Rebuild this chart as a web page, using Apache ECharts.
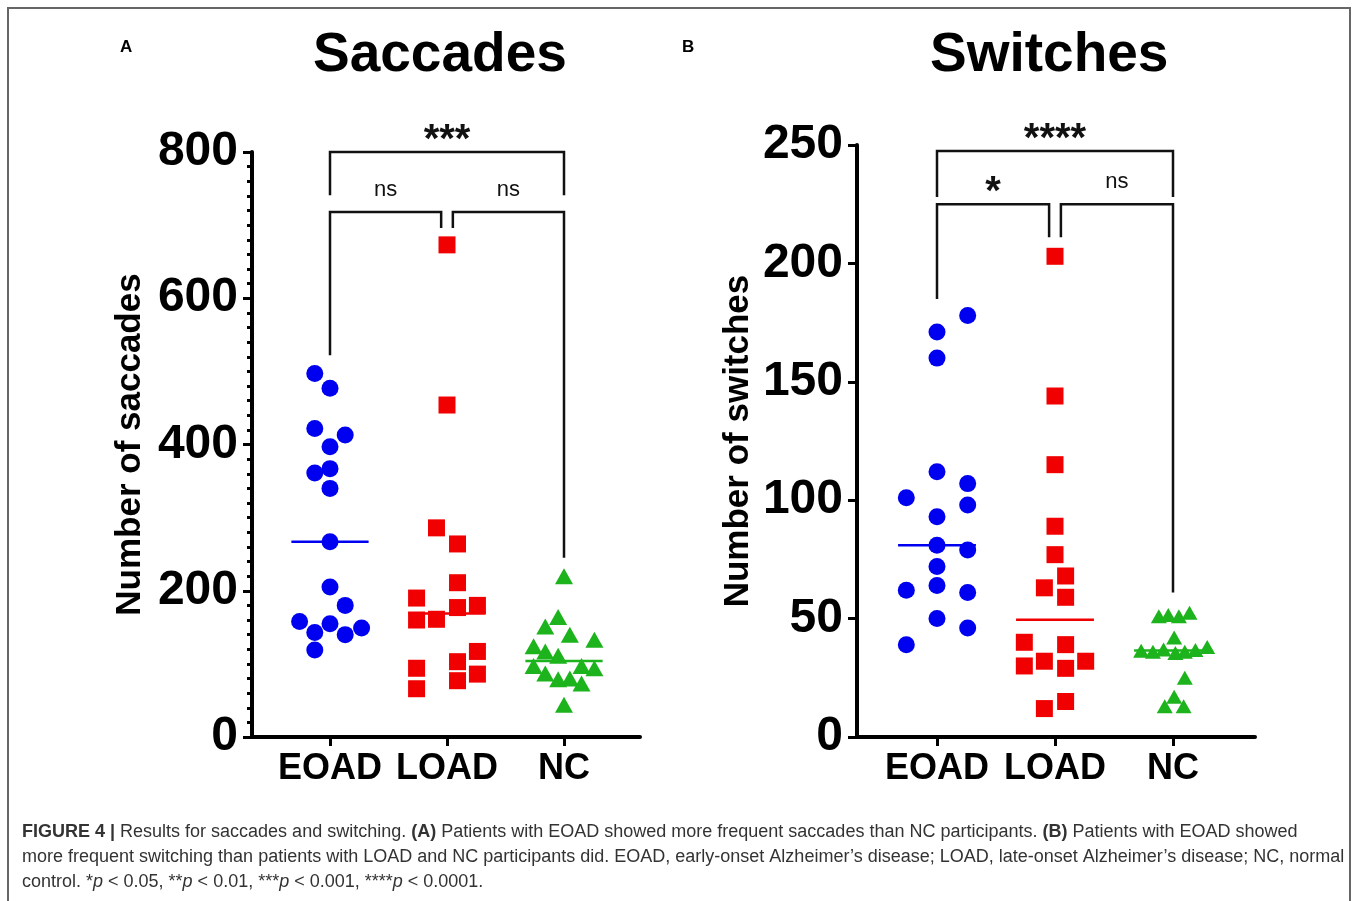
<!DOCTYPE html>
<html>
<head>
<meta charset="utf-8">
<script src="https://cdn.jsdelivr.net/npm/echarts@6/dist/echarts.min.js"></script>
<style>
  html, body { margin: 0; padding: 0; background: #fff; }
  #chart { width: 1357px; height: 901px; }
</style>
</head>
<body>
<div id="chart"></div>
<script>
// groups on the x axis
const groups = ['EOAD', 'LOAD', 'NC'];

// A: number of saccades (value + horizontal jitter, in category units)
const saccEOAD = [497, 477, 422, 413, 397, 367, 361, 340, 267, 205, 180, 158, 155, 149, 143, 140, 119];
const saccEOADJit = [-0.13, 0, -0.13, 0.13, 0, 0, -0.13, 0, 0, 0, 0.13, -0.26, 0, 0.27, -0.13, 0.13, -0.13];
const saccLOAD = [673, 454, 286, 264, 211, 190, 180, 177, 161, 160, 117, 103, 94, 86, 77, 66];
const saccLOADJit = [0, 0, -0.09, 0.09, 0.09, -0.26, 0.26, 0.09, -0.09, -0.26, 0.26, 0.09, -0.26, 0.26, 0.09, -0.26];
const saccNC = [220, 164, 151, 140, 133, 124, 117, 111, 97, 97, 94, 87, 80, 79, 73, 44];
const saccNCJit = [0, -0.05, -0.16, 0.05, 0.26, -0.26, -0.16, -0.05, -0.26, 0.15, 0.26, -0.16, 0.05, -0.05, 0.15, 0];

// B: number of switches
const switEOAD = [178, 171, 160, 112, 107, 101, 98, 93, 81, 79, 72, 64, 62, 61, 50, 46, 39];
const switEOADJit = [0.26, 0, 0, 0, 0.26, -0.26, 0.26, 0, 0, 0.26, 0, 0, -0.26, 0.26, 0, 0.26, -0.26];
const switLOAD = [203, 144, 115, 89, 77, 68, 63, 59, 40, 39, 32, 32, 30, 29, 15, 12];
const switLOADJit = [0, 0, 0, 0, 0, 0.09, -0.09, 0.09, -0.26, 0.09, -0.09, 0.26, -0.26, 0.09, 0.09, -0.09];
const switNC = [52.5, 51.5, 51, 51, 42, 38, 37, 36.7, 36.4, 36, 36, 35.5, 25, 17, 13, 13];
const switNCJit = [0.14, -0.04, -0.12, 0.05, 0.01, 0.29, -0.08, 0.19, -0.27, -0.17, 0.1, 0.02, 0.1, 0.01, -0.07, 0.09];

// y ticks
const saccTicks = [0, 200, 400, 600, 800];
const switTicks = [0, 50, 100, 150, 200, 250];

// significance brackets: [x from, x to, bar level, left end, right end]
const saccBrackets = [[1, 3, 800, 741, 741], [1, 1.95, 718, 522, 696], [2.05, 3, 718, 696, 245]];
const saccLabels = ['***', 'ns', 'ns'];
const switBrackets = [[1, 3, 247.5, 228, 228], [1, 1.95, 225, 185, 211], [2.05, 3, 225, 211, 61]];
const switLabels = ['****', '*', 'ns'];

const colors = ['#0000f0', '#f00000', '#1cb31c'];
const symbols = ['circle', 'rect', 'triangle'];
const sans = "'Liberation Sans', Arial, Helvetica, sans-serif";

function median(arr) {
  const s = arr.slice().sort((a, b) => a - b);
  const m = Math.floor(s.length / 2);
  return s.length % 2 ? s[m] : (s[m - 1] + s[m]) / 2;
}

function points(values, jitter, gi) {
  return values.map((v, i) => [gi + 1 + jitter[i], v]);
}

let chart = echarts.init(document.getElementById('chart'));

function scatterSeries(idx, sets, sizes) {
  return sets.map((set, gi) => ({
    type: 'scatter',
    xAxisIndex: idx,
    yAxisIndex: idx,
    symbol: symbols[gi],
    symbolSize: sizes[gi],
    itemStyle: { color: colors[gi], opacity: 1 },
    z: 3,
    data: points(set[0], set[1], gi)
  }));
}

function medianSeries(idx, sets) {
  return {
    type: 'custom',
    xAxisIndex: idx,
    yAxisIndex: idx,
    z: 2,
    data: sets.map((set, gi) => [gi + 1, median(set[0])]),
    renderItem: function (params, api) {
      const x = api.value(0), y = api.value(1);
      const p1 = api.coord([x - 0.33, y]);
      const p2 = api.coord([x + 0.33, y]);
      return {
        type: 'line',
        shape: { x1: p1[0], y1: p1[1], x2: p2[0], y2: p2[1] },
        style: { stroke: colors[params.dataIndex], lineWidth: 2.5 }
      };
    }
  };
}

function bracketSeries(idx, brackets, labels) {
  return {
    type: 'custom',
    xAxisIndex: idx,
    yAxisIndex: idx,
    clip: false,
    z: 1,
    data: brackets,
    renderItem: function (params, api) {
      const x1 = api.value(0), x2 = api.value(1), y = api.value(2);
      const pL = api.coord([x1, api.value(3)]);
      const pTL = api.coord([x1, y]);
      const pTR = api.coord([x2, y]);
      const pR = api.coord([x2, api.value(4)]);
      const label = labels[params.dataIndex];
      const star = label.indexOf('*') >= 0;
      return {
        type: 'group',
        children: [
          {
            type: 'polyline',
            shape: { points: [pL, pTL, pTR, pR] },
            style: { stroke: '#111', lineWidth: 2.5, fill: null }
          },
          {
            type: 'text',
            style: {
              text: label,
              x: (pTL[0] + pTR[0]) / 2,
              y: star ? pTL[1] - 11 : pTL[1] - 22,
              align: 'center',
              verticalAlign: 'middle',
              font: star ? 'bold 40px ' + sans : '22px ' + sans,
              fill: '#111'
            }
          }
        ]
      };
    }
  };
}

function xAxisFor(idx, min, max) {
  return {
    type: 'value',
    gridIndex: idx,
    min: min,
    max: max,
    splitLine: { show: false },
    axisLine: { onZero: false, lineStyle: { color: '#000', width: 4 } },
    axisTick: { show: true, customValues: [1, 2, 3], length: 9, lineStyle: { color: '#000', width: 3 } },
    axisLabel: {
      customValues: [1, 2, 3],
      formatter: v => groups[Math.round(v) - 1] || '',
      margin: 14,
      color: '#000',
      fontFamily: sans,
      fontWeight: 'bold',
      fontSize: 36
    }
  };
}

function yAxisFor(idx, max, interval, name, minor, gap) {
  return {
    type: 'value',
    gridIndex: idx,
    min: 0,
    max: max,
    interval: interval,
    name: name,
    nameLocation: 'middle',
    nameGap: gap,
    nameTextStyle: { color: '#000', fontFamily: sans, fontWeight: 'bold', fontSize: 35 },
    splitLine: { show: false },
    axisLine: { show: true, lineStyle: { color: '#000', width: 4 } },
    axisTick: { show: true, length: 9, lineStyle: { color: '#000', width: 3 } },
    minorTick: { show: minor, splitNumber: 10, length: 5, lineStyle: { color: '#000', width: 3 } },
    axisLabel: {
      margin: 14,
      color: '#000',
      fontFamily: sans,
      fontWeight: 'bold',
      fontSize: 48
    }
  };
}

const saccSets = [[saccEOAD, saccEOADJit], [saccLOAD, saccLOADJit], [saccNC, saccNCJit]];
const switSets = [[switEOAD, switEOADJit], [switLOAD, switLOADJit], [switNC, switNCJit]];

const captionRich = {
  b: { fontFamily: sans, fontWeight: 'bold', fontSize: 18, fill: '#333' },
  i: { fontFamily: sans, fontStyle: 'italic', fontSize: 18, fill: '#333' }
};

function captionLine(text, y) {
  return {
    type: 'text',
    left: 22,
    top: y,
    style: { text: text, font: '18px ' + sans, fill: '#333', rich: captionRich }
  };
}

let option = {
  backgroundColor: '#fff',
  animation: false,
  grid: [
    { left: 252, top: 152, width: 388, height: 585, containLabel: false, outerBoundsMode: 'none' },
    { left: 857, top: 145, width: 398, height: 592, containLabel: false, outerBoundsMode: 'none' }
  ],
  xAxis: [xAxisFor(0, 1 - 78 / 117, 3 + 76 / 117), xAxisFor(1, 1 - 80 / 118, 3 + 82 / 118)],
  yAxis: [
    yAxisFor(0, saccTicks[saccTicks.length - 1], saccTicks[1] - saccTicks[0], 'Number of saccades', true, 104),
    yAxisFor(1, switTicks[switTicks.length - 1], switTicks[1] - switTicks[0], 'Number of switches', false, 101)
  ],
  graphic: [
    { type: 'polyline', shape: { points: [[8, 905], [8, 8], [1350, 8], [1350, 905]] },
      style: { stroke: '#666', lineWidth: 2, fill: null } },
    { type: 'text', left: 120, top: 39, style: { text: 'A', font: 'bold 17px ' + sans, fill: '#000' } },
    { type: 'text', left: 682, top: 39, style: { text: 'B', font: 'bold 17px ' + sans, fill: '#000' } },
    { type: 'text', left: 313, top: 28, style: { text: 'Saccades', font: 'bold 55px ' + sans, fill: '#000' } },
    { type: 'text', left: 930, top: 28, style: { text: 'Switches', font: 'bold 55px ' + sans, fill: '#000' } },
    captionLine('{b|FIGURE 4 |} Results for saccades and switching. {b|(A)} Patients with EOAD showed more frequent saccades than NC participants. {b|(B)} Patients with EOAD showed', 823),
    captionLine('more frequent switching than patients with LOAD and NC participants did. EOAD, early-onset Alzheimer\u2019s disease; LOAD, late-onset Alzheimer\u2019s disease; NC, normal', 848),
    captionLine('control. *{i|p} < 0.05, **{i|p} < 0.01, ***{i|p} < 0.001, ****{i|p} < 0.0001.', 873)
  ],
  series: [].concat(
    [medianSeries(0, saccSets), bracketSeries(0, saccBrackets, saccLabels)],
    scatterSeries(0, saccSets, [17, 17, [18, 16]]),
    [medianSeries(1, switSets), bracketSeries(1, switBrackets, switLabels)],
    scatterSeries(1, switSets, [17, 17, [16, 14]])
  )
};

chart.setOption(option);
</script>
</body>
</html>
